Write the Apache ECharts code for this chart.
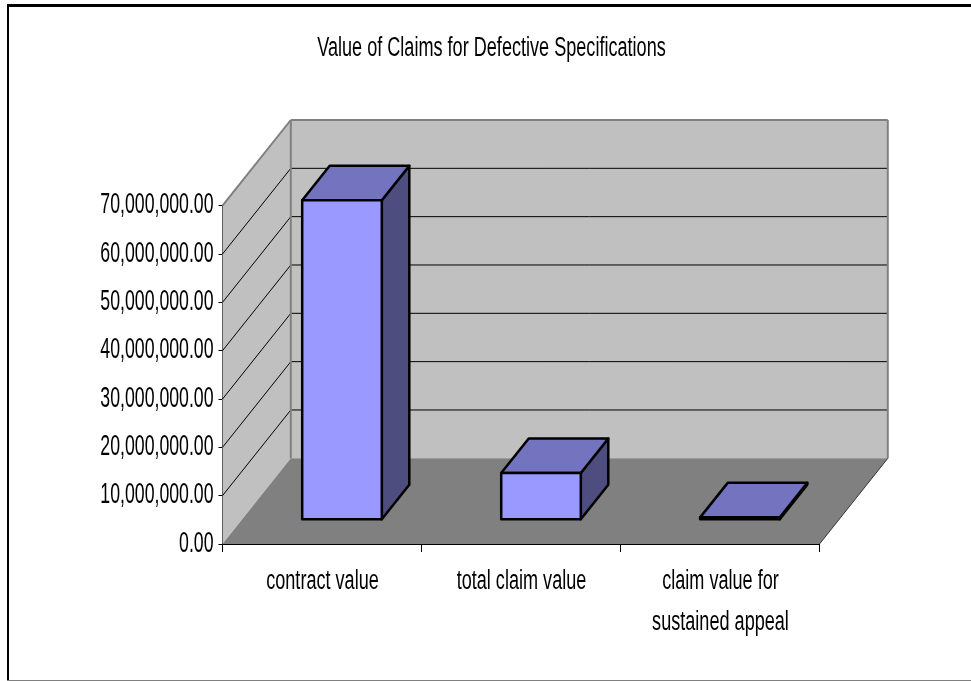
<!DOCTYPE html>
<html>
<head>
<meta charset="utf-8">
<style>html,body{margin:0;padding:0;background:#fff}#chart{width:971px;height:681px}</style>
<script src="https://cdn.jsdelivr.net/npm/echarts@6/dist/echarts.min.js"></script>
</head>
<body>
<div id="chart"></div>
<script>
const chartTitle = 'Value of Claims for Defective Specifications';
const categories = ['contract value', 'total claim value', 'claim value for\nsustained appeal'];
const claimValues = [66000000, 9600000, 400000];
const gridValues = [0, 10000000, 20000000, 30000000, 40000000, 50000000, 60000000, 70000000];
const tickLabels = ['0.00', '10,000,000.00', '20,000,000.00', '30,000,000.00', '40,000,000.00', '50,000,000.00', '60,000,000.00', '70,000,000.00'];

// Oblique projection of the box: screen offset from the front plane to the back plane
const DEPTH = [68.3, -85.7];
// Where the bars sit inside that depth
const BAR_START = [20, -24.7];
const BAR_DEPTH = [27.5, -34.5];
const BAR_WIDTH_RATIO = 0.4;
// Narrow lettering: a tall sans face squeezed horizontally
const FONT_FAMILY = '"Liberation Sans", Arial, sans-serif';
const TICK_FONT = { size: 29, squeeze: 0.61 };
const CATEGORY_FONT = { size: 27, squeeze: 0.67 };
const TITLE_FONT = { size: 27, squeeze: 0.67 };

const shift = (p, d) => [p[0] + d[0], p[1] + d[1]];
const poly = (points, fill) => ({ type: 'polygon', shape: { points }, style: { fill, stroke: 'none' } });
const line = (a, b, stroke, lineWidth) => ({
  type: 'line',
  shape: { x1: a[0], y1: a[1], x2: b[0], y2: b[1] },
  style: { stroke, lineWidth }
});
const fontOf = f => `${f.size}px ${FONT_FAMILY}`;

// Side wall, back wall, floor and gridlines, all taken from the axis scales
function renderBox(params, api) {
  const band = api.size([1, 0])[0];
  const left = api.coord([0, 0])[0] - band / 2;
  const right = left + band * categories.length;
  const y0 = api.coord([0, 0])[1];
  const yTop = api.coord([0, gridValues[gridValues.length - 1]])[1];
  const a = [left, y0], b = [left, yTop], c = [right, y0], d = [right, yTop];
  const children = [
    poly([b, shift(b, DEPTH), shift(a, DEPTH), a], '#C0C0C0'),
    poly([shift(b, DEPTH), shift(d, DEPTH), shift(c, DEPTH), shift(a, DEPTH)], '#C0C0C0'),
    poly([a, shift(a, DEPTH), shift(c, DEPTH), c], '#808080')
  ];
  gridValues.slice(1, -1).forEach(v => {
    const y = api.coord([0, v])[1];
    const p = [left, y];
    children.push(line(p, shift(p, DEPTH), '#000', 1));
    children.push(line(shift(p, DEPTH), shift([right, y], DEPTH), '#000', 1));
  });
  const w = '#808080';
  children.push(
    line(b, shift(b, DEPTH), w, 2),
    line(shift(b, DEPTH), shift(d, DEPTH), w, 2),
    line(shift(b, DEPTH), shift(a, DEPTH), w, 2),
    line(shift(d, DEPTH), shift(c, DEPTH), w, 2),
    line(c, shift(c, DEPTH), '#333', 1)
  );
  return { type: 'group', children };
}

// One three-sided bar: front, top and right faces
function renderBar(params, api) {
  const idx = api.value(0);
  const base = api.coord([idx, 0]);
  const top = api.coord([idx, api.value(1)]);
  const half = api.size([1, 0])[0] * BAR_WIDTH_RATIO / 2;
  const fl = shift([base[0] - half, base[1]], BAR_START);
  const fr = shift([base[0] + half, base[1]], BAR_START);
  const tl = shift([base[0] - half, top[1]], BAR_START);
  const tr = shift([base[0] + half, top[1]], BAR_START);
  const style = { fill: '#9999FF', stroke: '#000', lineWidth: 2.5, lineJoin: 'round' };
  return {
    type: 'group',
    children: [
      { type: 'polygon', shape: { points: [fr, shift(fr, BAR_DEPTH), shift(tr, BAR_DEPTH), tr] }, style: { ...style, fill: '#4D4D80' } },
      { type: 'polygon', shape: { points: [tl, tr, shift(tr, BAR_DEPTH), shift(tl, BAR_DEPTH)] }, style: { ...style, fill: '#7373BF' } },
      { type: 'polygon', shape: { points: [fl, fr, tr, tl] }, style }
    ]
  };
}

// Value-axis labels, placed from the axis scale
function renderTickLabel(params, api) {
  const i = api.value(0);
  const band = api.size([1, 0])[0];
  const p = api.coord([0, gridValues[i]]);
  return {
    type: 'text',
    x: p[0] - band / 2 - 9,
    y: p[1] - 0.5,
    scaleX: TICK_FONT.squeeze,
    style: {
      text: tickLabels[i],
      font: fontOf(TICK_FONT),
      fill: '#000',
      textAlign: 'right',
      textVerticalAlign: 'middle',
      align: 'right',
      verticalAlign: 'middle'
    }
  };
}

// Category labels, centred under each band
function renderCategoryLabel(params, api) {
  const i = api.value(0);
  const p = api.coord([i, 0]);
  return {
    type: 'text',
    x: p[0] + 0.5,
    y: p[1] + 16.5,
    scaleX: CATEGORY_FONT.squeeze,
    style: {
      text: categories[i],
      font: fontOf(CATEGORY_FONT),
      lineHeight: 41.5,
      fill: '#000',
      textAlign: 'center',
      textVerticalAlign: 'top',
      align: 'center',
      verticalAlign: 'top'
    }
  };
}

const chart = echarts.init(document.getElementById('chart'), null, { renderer: 'canvas' });
chart.setOption({
  animation: false,
  backgroundColor: '#fff',
  graphic: [
    // Chart-area frame: open on the right-hand side
    { type: 'line', shape: { x1: 7, y1: 5.5, x2: 971, y2: 5.5 }, style: { stroke: '#000', lineWidth: 3 } },
    { type: 'line', shape: { x1: 8, y1: 4, x2: 8, y2: 681 }, style: { stroke: '#000', lineWidth: 2 } },
    { type: 'line', shape: { x1: 7, y1: 680.5, x2: 971, y2: 680.5 }, style: { stroke: '#808080', lineWidth: 1 } },
    {
      type: 'text',
      x: 491.5,
      y: 49,
      scaleX: TITLE_FONT.squeeze,
      style: {
        text: chartTitle,
        font: fontOf(TITLE_FONT),
        fill: '#000',
        textAlign: 'center',
        textVerticalAlign: 'middle',
        align: 'center',
        verticalAlign: 'middle'
      }
    }
  ],
  grid: { left: 222.5, width: 597, top: 205.7, height: 338.3 },
  xAxis: {
    type: 'category',
    data: categories,
    axisLine: { lineStyle: { color: '#000', width: 1 } },
    axisTick: { show: true, length: 8, lineStyle: { color: '#000' } },
    axisLabel: { show: false }
  },
  yAxis: {
    type: 'value',
    min: 0,
    max: 70000000,
    interval: 10000000,
    splitLine: { show: false },
    axisLine: { show: true, lineStyle: { color: '#000', width: 1 } },
    axisTick: { show: true, length: 4, lineStyle: { color: '#000' } },
    axisLabel: { show: false }
  },
  series: [
    {
      type: 'custom',
      coordinateSystem: 'cartesian2d',
      renderItem: renderBox,
      data: [[0, 0]],
      silent: true,
      z: 1
    },
    {
      type: 'custom',
      coordinateSystem: 'cartesian2d',
      renderItem: renderBar,
      encode: { x: 0, y: 1 },
      data: claimValues.map((v, i) => [i, v]),
      z: 3
    },
    {
      type: 'custom',
      coordinateSystem: 'cartesian2d',
      renderItem: renderTickLabel,
      data: tickLabels.map((t, i) => [i]),
      silent: true,
      z: 4
    },
    {
      type: 'custom',
      coordinateSystem: 'cartesian2d',
      renderItem: renderCategoryLabel,
      data: categories.map((c, i) => [i]),
      silent: true,
      z: 4
    }
  ]
});
</script>
</body>
</html>
